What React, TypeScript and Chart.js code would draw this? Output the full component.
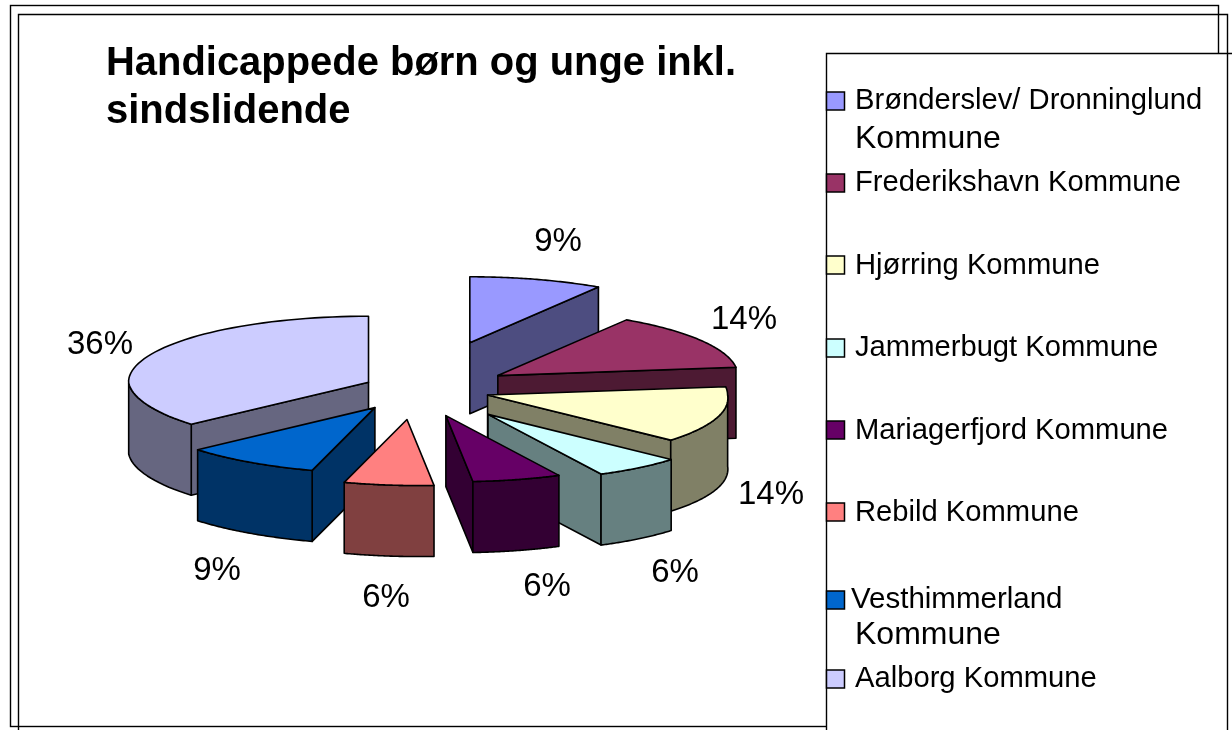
import React, { useEffect, useRef } from "react";
import { Chart, registerables } from "chart.js";

Chart.register(...registerables);

const categories = [
  "Brønderslev/ Dronninglund Kommune",
  "Frederikshavn Kommune",
  "Hjørring Kommune",
  "Jammerbugt Kommune",
  "Mariagerfjord Kommune",
  "Rebild Kommune",
  "Vesthimmerland Kommune",
  "Aalborg Kommune",
];
const shares = [9, 14, 14, 6, 6, 6, 9, 36];
const topColors = ["#9999FF", "#993366", "#FFFFCC", "#CCFFFF", "#660066", "#FF8080", "#0066CC", "#CCCCFF"];
const sideColors = ["#4D4D80", "#4D1A33", "#808066", "#668080", "#330033", "#804040", "#003366", "#666680"];
const explode = [175, 91, 70, 114, 100, 112, 82, 58];
const titleLines = ["Handicappede børn og unge inkl.", "sindslidende"];

// layout of the picture, separate from the data
const CX = 421, CY = 389, RADIUS = 240, SQUASH = 0.275, DEPTH = 71, SKEW = 12;
const FONT = '"Liberation Sans", Arial, sans-serif';
const labelSpots = [[558, 242], [744, 320], [771, 495], [675, 573], [547, 587], [386, 598], [217, 571], [100, 345]];
const legendRows: { swatch: [number, number]; lines: [string, number, number, number][] }[] = [
  { swatch: [826, 101], lines: [["Brønderslev/ Dronninglund", 855, 101, 29.2], ["Kommune", 855, 139, 32]] },
  { swatch: [826, 183], lines: [["Frederikshavn Kommune", 855, 183, 29.2]] },
  { swatch: [826, 265], lines: [["Hjørring Kommune", 855, 266, 29.2]] },
  { swatch: [826, 348], lines: [["Jammerbugt Kommune", 855, 348, 29.2]] },
  { swatch: [826, 430], lines: [["Mariagerfjord Kommune", 855, 431, 29.2]] },
  { swatch: [826, 512], lines: [["Rebild Kommune", 855, 513, 29.2]] },
  { swatch: [826, 600], lines: [["Vesthimmerland", 851, 600, 29.5], ["Kommune", 855, 635, 32]] },
  { swatch: [826, 679], lines: [["Aalborg Kommune", 855, 679, 29.2]] },
];

function seg(ctx: CanvasRenderingContext2D, pts: [number, number][]) {
  ctx.beginPath();
  pts.forEach((p, i) => (i ? ctx.lineTo(p[0], p[1]) : ctx.moveTo(p[0], p[1])));
  ctx.closePath();
}

const pie3d = {
  id: "pie3d",
  beforeDraw(chart: any) {
    const ctx: CanvasRenderingContext2D = chart.ctx;
    ctx.save();
    ctx.fillStyle = "#fff";
    ctx.fillRect(0, 0, chart.width, chart.height);
    ctx.strokeStyle = "#000";
    ctx.lineWidth = 1.4;
    ctx.strokeRect(10.5, 5.5, 1208, 721);
    ctx.beginPath();
    ctx.moveTo(18.5, 730);
    ctx.lineTo(18.5, 14.5);
    ctx.lineTo(1227.5, 14.5);
    ctx.lineTo(1227.5, 730);
    ctx.stroke();
    ctx.restore();
  },
  beforeDatasetDraw(chart: any) {
    const ctx: CanvasRenderingContext2D = chart.ctx;
    const arcs: any[] = chart.getDatasetMeta(0).data;
    const slices = arcs.map((arc: any, i: number) => {
      const p = arc.getProps(["x", "y", "startAngle", "endAngle", "outerRadius"], true);
      const mid = (p.startAngle + p.endAngle) / 2;
      const off = arc.options.offset;
      return { ...p, i, ox: p.x + off * Math.cos(mid), oy: p.y + off * Math.sin(mid) * SQUASH };
    });
    const order = [...slices].sort((a, b) => a.oy - b.oy);
    ctx.save();
    ctx.lineJoin = "round";
    ctx.strokeStyle = "#000";
    ctx.lineWidth = 1.6;
    for (const s of order) {
      const pt = (a: number, h = 0): [number, number] => {
        const ly = Math.sin(a);
        return [s.ox + s.outerRadius * Math.cos(a) + SKEW * Math.max(0, ly), s.oy + s.outerRadius * ly * SQUASH + h];
      };
      const c0: [number, number] = [s.ox, s.oy];
      const c1: [number, number] = [s.ox, s.oy + DEPTH];
      const steps = 60;
      const rim: number[] = [];
      for (let k = 0; k <= steps; k++) rim.push(s.startAngle + ((s.endAngle - s.startAngle) * k) / steps);

      ctx.fillStyle = sideColors[s.i];
      if (-Math.cos(s.startAngle) > 0) {
        seg(ctx, [c0, pt(s.startAngle), pt(s.startAngle, DEPTH), c1]);
        ctx.fill();
        ctx.stroke();
      }
      if (Math.cos(s.endAngle) > 0) {
        seg(ctx, [c0, pt(s.endAngle), pt(s.endAngle, DEPTH), c1]);
        ctx.fill();
        ctx.stroke();
      }
      const front = rim.filter((a) => Math.sin(a) >= 0);
      if (front.length > 1) {
        seg(ctx, [...front.map((a) => pt(a)), ...[...front].reverse().map((a) => pt(a, DEPTH))]);
        ctx.fill();
        ctx.stroke();
      }
      ctx.fillStyle = topColors[s.i];
      seg(ctx, [c0, ...rim.map((a) => pt(a))]);
      ctx.fill();
      ctx.stroke();
    }
    ctx.restore();
    return false;
  },
  afterDraw(chart: any) {
    const ctx: CanvasRenderingContext2D = chart.ctx;
    ctx.save();
    ctx.fillStyle = "#000";
    ctx.textBaseline = "middle";
    ctx.textAlign = "center";
    ctx.font = `33px ${FONT}`;
    shares.forEach((v, i) => ctx.fillText(`${v}%`, labelSpots[i][0], labelSpots[i][1]));

    // legend panel
    ctx.fillStyle = "#fff";
    ctx.fillRect(827, 54, 405, 676);
    ctx.strokeStyle = "#000";
    ctx.lineWidth = 1.4;
    ctx.beginPath();
    ctx.moveTo(1232, 53.5);
    ctx.lineTo(826.5, 53.5);
    ctx.lineTo(826.5, 730);
    ctx.stroke();
    ctx.beginPath();
    ctx.moveTo(1227.5, 54);
    ctx.lineTo(1227.5, 730);
    ctx.stroke();
    ctx.textAlign = "left";
    legendRows.forEach((row, i) => {
      ctx.fillStyle = topColors[i];
      ctx.fillRect(row.swatch[0] + 0.5, row.swatch[1] - 9, 18, 18);
      ctx.lineWidth = 1.5;
      ctx.strokeRect(row.swatch[0] + 0.5, row.swatch[1] - 9, 18, 18);
      ctx.fillStyle = "#000";
      row.lines.forEach(([t, x, y, size]) => {
        ctx.font = `${size}px ${FONT}`;
        ctx.fillText(t, x, y);
      });
    });
    ctx.restore();
  },
};

export default function App() {
  const ref = useRef<HTMLCanvasElement>(null);
  useEffect(() => {
    const chart = new Chart(ref.current!, {
      type: "pie",
      data: {
        labels: categories,
        datasets: [{ data: shares, backgroundColor: topColors, offset: explode, borderWidth: 0 }],
      },
      options: {
        animation: false,
        responsive: false,
        radius: RADIUS,
        layout: { padding: { left: 106, right: 1232 - (2 * CX - 106), top: 40, bottom: 730 - (2 * CY - 146) } },
        plugins: {
          legend: { display: false },
          tooltip: { enabled: false },
          title: {
            display: true,
            text: titleLines,
            align: "start",
            color: "#000",
            font: { family: FONT, size: 40, weight: "bold", lineHeight: 1.2 },
            padding: { top: 0, bottom: 10 },
          },
        },
      },
      plugins: [pie3d],
    } as any);
    return () => chart.destroy();
  }, []);
  return <canvas ref={ref} width={1232} height={730} style={{ position: "fixed", left: 0, top: 0, display: "block" }} />;
}
